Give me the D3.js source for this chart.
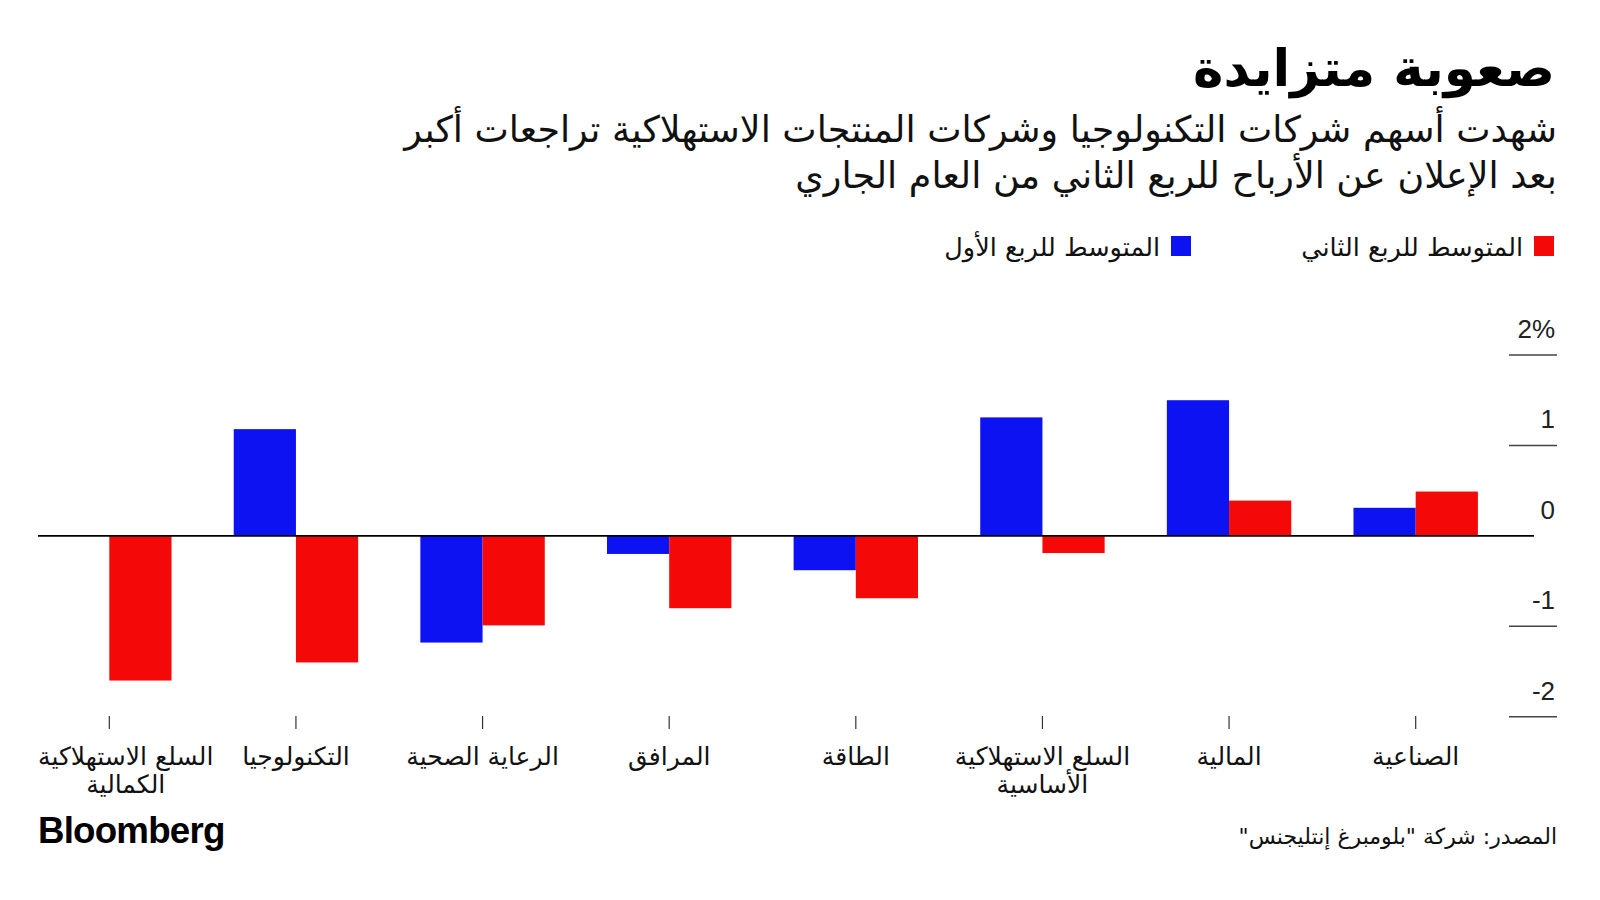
<!DOCTYPE html>
<html><head><meta charset="utf-8">
<script src="https://cdn.jsdelivr.net/npm/d3@7"></script>
<style>
html,body{margin:0;padding:0;background:#fff;}
svg{display:block;}
.ar{font-family:"DejaVu Sans",sans-serif;}
.num{font-family:"Liberation Sans",Arial,Helvetica,sans-serif;}
</style></head>
<body>
<svg id="chart" width="1600" height="900"></svg>
<script>
// Data (categories listed right-to-left as in the chart)
const categories = ["الصناعية","المالية","السلع الاستهلاكية الأساسية","الطاقة","المرافق","الرعاية الصحية","التكنولوجيا","السلع الاستهلاكية الكمالية"];
const categoryLines = [["الصناعية"],["المالية"],["السلع الاستهلاكية","الأساسية"],["الطاقة"],["المرافق"],["الرعاية الصحية"],["التكنولوجيا"],["السلع الاستهلاكية","الكمالية"]];
const q1Avg = [0.31, 1.50, 1.31, -0.38, -0.20, -1.18, 1.18, 0];
const q2Avg = [0.49, 0.39, -0.19, -0.69, -0.80, -0.99, -1.40, -1.60];
const yTicks = [-2, -1, 0, 1, 2];
const yTickLabels = ["-2", "-1", "0", "1", "2%"];
const seriesKeys = ["q1", "q2"];
const seriesNames = ["المتوسط للربع الأول", "المتوسط للربع الثاني"];
const seriesColors = ["#0c12f2", "#f40808"];
const title = "صعوبة متزايدة";
const subtitle = ["شهدت أسهم شركات التكنولوجيا وشركات المنتجات الاستهلاكية تراجعات أكبر", "بعد الإعلان عن الأرباح للربع الثاني من العام الجاري"];
const source = "المصدر: شركة \"بلومبرغ إنتليجنس\"";

const svg = d3.select("#chart");

function fitWidth(sel, target) {
  const w = sel.node().getComputedTextLength();
  const fs = parseFloat(sel.attr("font-size"));
  if (w > 0) sel.attr("font-size", fs * target / w);
  return parseFloat(sel.attr("font-size"));
}

// Title
const t = svg.append("text").attr("class","ar").attr("x",1555).attr("y",86)
  .attr("direction","rtl").attr("text-anchor","start")
  .attr("font-size",52).attr("font-weight","bold").attr("fill","#000").text(title);
fitWidth(t, 362);

// Subtitle (same size for both lines, fitted to the first line's width)
const subY = [142, 188];
const subs = subtitle.map((s,i)=> svg.append("text").attr("class","ar").attr("x",1557).attr("y",subY[i])
    .attr("direction","rtl").attr("text-anchor","start")
    .attr("font-size",34).attr("fill","#111").text(s));
const subFs = fitWidth(subs[0], 1153);
subs[1].attr("font-size", subFs);

// Legend
const legendX = [1191, 1554];
seriesKeys.forEach((k,i)=>{
  svg.append("rect").attr("x",legendX[i]-20).attr("y",236).attr("width",20).attr("height",20).attr("fill",seriesColors[i]);
  svg.append("text").attr("class","ar").attr("x",legendX[i]-31).attr("y",256)
    .attr("direction","rtl").attr("text-anchor","start")
    .attr("font-size",25.5).attr("fill","#111").text(seriesNames[i]);
});

// Scales
const x = d3.scaleBand().domain(categories).range([1509, 16]);
const bw = x.bandwidth();
const x1 = d3.scaleBand().domain(seriesKeys).range([-bw/3, bw/3]);
const y = d3.scaleLinear().domain([-2, 2]).range([716.7, 355]);

// Y gridlines and labels
yTicks.forEach((v,i)=>{
  if (v !== 0) {
    svg.append("line").attr("x1",1509).attr("x2",1557).attr("y1",y(v)).attr("y2",y(v))
      .attr("stroke","#444").attr("stroke-width",1.5);
  }
  svg.append("text").attr("class","num").attr("x",1555).attr("y",y(v)-17)
    .attr("text-anchor","end").attr("font-size",26).attr("fill","#222").text(yTickLabels[i]);
});

// Bars
const rows = categories.map((c,i)=>({c, q1:q1Avg[i], q2:q2Avg[i]}));
const g = svg.append("g");
rows.forEach(r=>{
  const cx = x(r.c) + bw/2;
  seriesKeys.forEach((k,j)=>{
    const v = r[k];
    if (v === 0) return;
    g.append("rect").attr("x", cx + x1(k)).attr("width", x1.bandwidth())
      .attr("y", y(Math.max(0,v))).attr("height", Math.abs(y(v)-y(0)))
      .attr("fill", seriesColors[j]);
  });
});

// Zero line
svg.append("line").attr("x1",38).attr("x2",1534).attr("y1",y(0)).attr("y2",y(0))
  .attr("stroke","#000").attr("stroke-width",1.6);

// X ticks and labels
categories.forEach((c,i)=>{
  const cx = x(c) + bw/2;
  svg.append("line").attr("x1",cx).attr("x2",cx).attr("y1",716).attr("y2",729)
    .attr("stroke","#333").attr("stroke-width",1.2);
  const tx = svg.append("text").attr("class","ar").attr("x",cx).attr("y",765)
    .attr("direction","rtl").attr("text-anchor","middle").attr("font-size",25).attr("fill","#111");
  const spans = categoryLines[i].map((ln,k)=> tx.append("tspan").attr("x",cx).attr("y",765 + k*28).text(ln));
  // keep label inside the left margin
  const bb = tx.node().getBBox();
  if (bb.x < 38) {
    const shift = 38 - bb.x;
    spans.forEach(s=> s.attr("x", cx + shift));
  }
});

// Bloomberg logo
const logo = svg.append("text").attr("class","num").attr("x",38).attr("y",843)
  .attr("font-size",34).attr("font-weight","bold").attr("fill","#000").attr("letter-spacing",-0.8).text("Bloomberg");
fitWidth(logo, 186);

// Source
svg.append("text").attr("class","ar").attr("x",1557).attr("y",844)
  .attr("direction","rtl").attr("text-anchor","start")
  .attr("font-size",22).attr("fill","#111").text(source);
</script>
</body></html>
